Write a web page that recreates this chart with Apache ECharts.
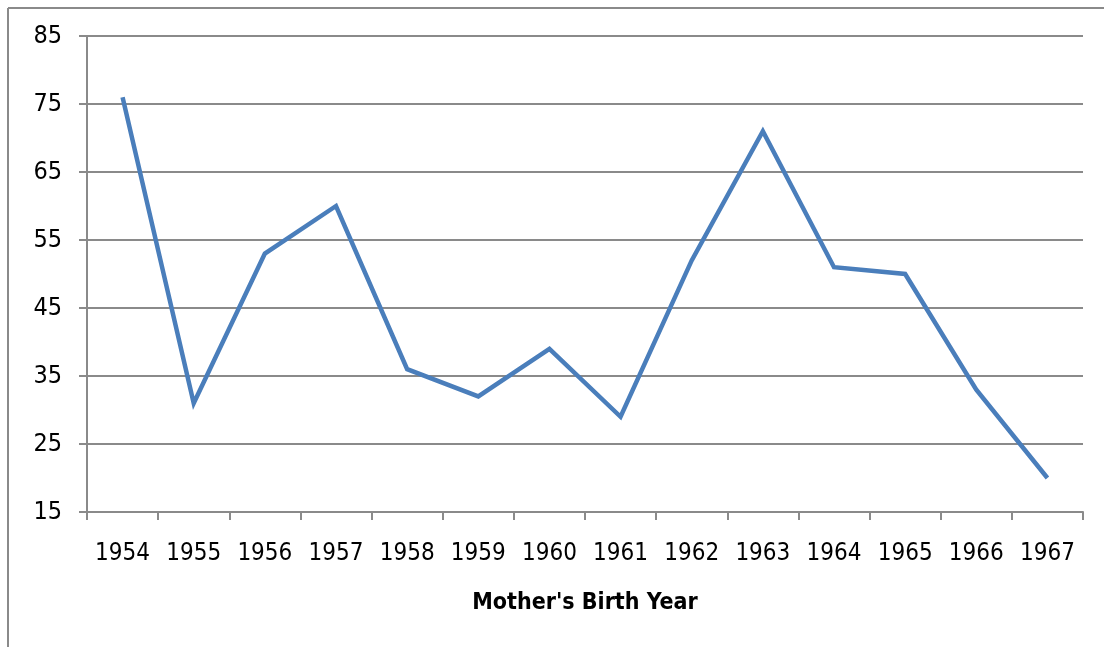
<!DOCTYPE html>
<html>
<head>
<meta charset="utf-8">
<script src="https://cdn.jsdelivr.net/npm/echarts@6/dist/echarts.min.js"></script>
<style>
  html, body { margin: 0; padding: 0; background: #fff; }
  #chart { width: 1104px; height: 647px; }
</style>
</head>
<body>
<div id="chart"></div>
<script>
// data
const years = ['1954', '1955', '1956', '1957', '1958', '1959', '1960',
  '1961', '1962', '1963', '1964', '1965', '1966', '1967'];
const values = [76, 31, 53, 60, 36, 32, 39, 29, 52, 71, 51, 50, 33, 20];
const yMin = 15;
const yMax = 85;
const yStep = 10;

const font = '"Liberation Sans Narrow", "DejaVu Sans Condensed", "Liberation Sans", sans-serif';
const gray = '#8a8a8a';

const chart = echarts.init(document.getElementById('chart'));
chart.setOption({
  animation: false,
  backgroundColor: '#fff',
  grid: { left: 87, right: 21, top: 36, bottom: 135 },
  // frame of the page around the chart
  graphic: [
    { type: 'line', shape: { x1: 8, y1: 8, x2: 8, y2: 647 }, style: { stroke: gray, lineWidth: 2 } },
    { type: 'line', shape: { x1: 8, y1: 8, x2: 1104, y2: 8 }, style: { stroke: gray, lineWidth: 2 } }
  ],
  xAxis: {
    type: 'category',
    data: years,
    boundaryGap: true,
    name: "Mother's Birth Year",
    nameLocation: 'middle',
    nameGap: 80,
    nameTextStyle: { fontFamily: font, fontSize: 23, fontWeight: 'bold', color: '#000' },
    axisLine: { lineStyle: { color: gray, width: 2 } },
    axisTick: { show: true, interval: 0, length: 8, lineStyle: { color: gray, width: 2 } },
    axisLabel: { interval: 0, fontFamily: font, fontSize: 24, color: '#000', margin: 30 }
  },
  yAxis: {
    type: 'value',
    min: yMin,
    max: yMax,
    interval: yStep,
    axisLine: { show: true, lineStyle: { color: gray, width: 2 } },
    axisTick: { show: true, length: 8, lineStyle: { color: gray, width: 2 } },
    axisLabel: { fontFamily: font, fontSize: 25, color: '#000', margin: 25 },
    splitLine: { lineStyle: { color: gray, width: 2 } }
  },
  series: [{
    type: 'line',
    data: values,
    symbol: 'none',
    lineStyle: { color: '#4a7ebb', width: 4.5, join: 'miter' }
  }]
});
</script>
</body>
</html>
